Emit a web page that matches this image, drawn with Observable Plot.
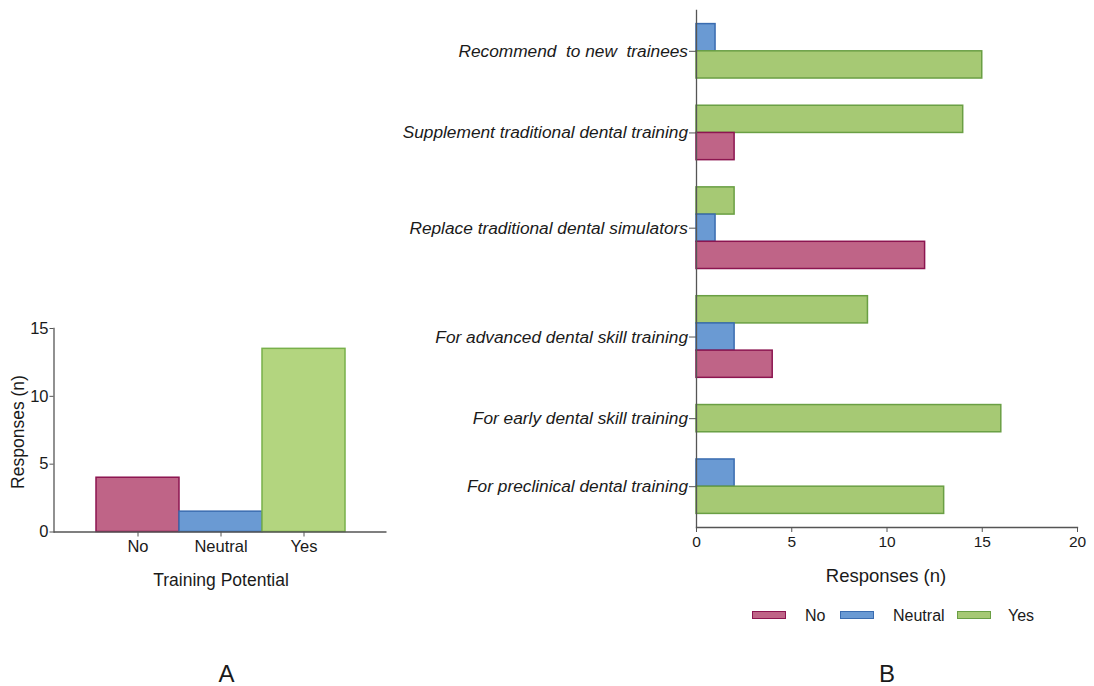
<!DOCTYPE html>
<html>
<head>
<meta charset="utf-8">
<script src="https://cdn.jsdelivr.net/npm/d3@7"></script>
<script src="https://cdn.jsdelivr.net/npm/@observablehq/plot@0.6"></script>
<style>
  html, body { margin: 0; padding: 0; background: #fff; }
  #root { position: relative; width: 1094px; height: 686px; overflow: hidden; font-family: "Liberation Sans", Arial, sans-serif; color: #1a1a1a; }
  .abs { position: absolute; }
  svg text { white-space: pre; }
  .lbl { position: absolute; white-space: pre; color: #1a1a1a; }
</style>
</head>
<body>
<div id="root"></div>
<script>
// ---------- Data: Panel A ----------
const potentialCategories = ["No", "Neutral", "Yes"];
const potentialValues = [4, 1.5, 13.5];
const potentialTicks = [0, 5, 10, 15];

// ---------- Data: Panel B ----------
const statements = [
  "Recommend  to new  trainees",
  "Supplement traditional dental training",
  "Replace traditional dental simulators",
  "For advanced dental skill training",
  "For early dental skill training",
  "For preclinical dental training"
];
const noCounts      = [null, 2, 12, 4, null, null];
const neutralCounts = [1, null, 1, 2, null, 2];
const yesCounts     = [15, 14, 2, 9, 16, 13];
// order in which the bars of each statement appear, top to bottom
const barOrder = [
  ["Neutral", "Yes"],
  ["Yes", "No"],
  ["Yes", "Neutral", "No"],
  ["Yes", "Neutral", "No"],
  ["Yes"],
  ["Neutral", "Yes"]
];
const responseTicks = [0, 5, 10, 15, 20];
const responses = ["No", "Neutral", "Yes"];

// ---------- Styles ----------
const fillsB   = ["#bf6487", "#6a9ad3", "#a6c974"];
const strokesB = ["#8c1550", "#3a6cb0", "#6a9f44"];
const fillsA   = ["#bf6487", "#6a9ad3", "#b3d57f"];
const strokesA = ["#8c1550", "#3a6cb0", "#78b04a"];
const FONT = "Liberation Sans, Arial, sans-serif";
const root = document.getElementById("root");

function place(el, left, top) {
  el.classList.add("abs");
  el.style.left = left + "px";
  el.style.top = top + "px";
  root.appendChild(el);
}
function label(text, x, y, size, opts = {}) {
  const d = document.createElement("div");
  d.className = "lbl";
  d.textContent = text;
  d.style.fontSize = size + "px";
  d.style.lineHeight = "1";
  d.style.left = x + "px";
  d.style.top = y + "px";
  d.style.transform = opts.rotate ? "translate(-50%,-50%) rotate(-90deg)" : "translate(-50%,-50%)";
  if (opts.italic) d.style.fontStyle = "italic";
  root.appendChild(d);
  return d;
}

// ---------- Panel A ----------
const dataA = potentialCategories.map((c, i) => ({category: c, value: potentialValues[i]}));
const plotA = Plot.plot({
  width: 400,
  height: 600,
  marginLeft: 53.5,
  marginRight: 13.5,
  marginTop: 328,
  marginBottom: 68.5,
  style: {fontFamily: FONT, color: "#1a1a1a", background: "transparent"},
  x: {domain: potentialCategories, paddingInner: 0, paddingOuter: 0.5},
  y: {domain: [0, 15]},
  color: {domain: potentialCategories, range: fillsA},
  marks: [
    Plot.barY(dataA, {
      x: "category", y: "value",
      fill: "category",
      stroke: d => strokesA[potentialCategories.indexOf(d.category)],
      strokeWidth: 1.5
    }),
    Plot.frame({anchor: "left", stroke: "#555", strokeWidth: 1.3}),
    Plot.ruleY([0], {stroke: "#555", strokeWidth: 1.3}),
    Plot.axisY({ticks: potentialTicks, tickSize: 4, tickPadding: 1.5, fontSize: 16.5, label: null, stroke: "#555"}),
    Plot.axisX({tickSize: 5, tickPadding: 3.5, fontSize: 16.5, label: null, stroke: "#555"})
  ]
});
place(plotA, 0, 0);
label("Responses (n)", 18.5, 432, 17.5, {rotate: true});
label("Training Potential", 221, 581, 17.5);
label("A", 226.5, 674, 24);

// ---------- Panel B ----------
// lay bars out group by group: one slot per bar, one empty slot between groups
const valueOf = {No: noCounts, Neutral: neutralCounts, Yes: yesCounts};
const dataB = [];
const centers = [];
let slot = 0;
statements.forEach((s, i) => {
  const first = slot;
  barOrder[i].forEach(r => {
    dataB.push({statement: s, response: r, value: valueOf[r][i], slot});
    slot++;
  });
  centers.push((first + slot - 1) / 2);
  slot++; // gap
});
const lastSlot = slot - 2;
const centerLabel = new Map(centers.map((c, i) => [c, statements[i]]));

const plotB = Plot.plot({
  width: 704,
  height: 560,
  marginLeft: 306,
  marginRight: 17,
  marginTop: 10,
  marginBottom: 33,
  style: {fontFamily: FONT, color: "#1a1a1a", background: "transparent"},
  x: {domain: [0, 20]},
  y: {domain: [-1, lastSlot + 1], reverse: true},
  color: {domain: responses, range: fillsB},
  marks: [
    Plot.rect(dataB, {
      x1: 0, x2: "value",
      y1: d => d.slot - 0.5, y2: d => d.slot + 0.5,
      fill: "response",
      stroke: d => strokesB[responses.indexOf(d.response)],
      strokeWidth: 1.5
    }),
    Plot.frame({anchor: "left", stroke: "#555", strokeWidth: 1.3}),
    Plot.frame({anchor: "bottom", stroke: "#555", strokeWidth: 1.3}),
    Plot.axisX({ticks: responseTicks, tickSize: 5, tickPadding: 3, fontSize: 15.5, label: null, stroke: "#555"}),
    Plot.axisY({ticks: centers, tickFormat: d => centerLabel.get(d), tickSize: 7, tickPadding: 1.5,
      fontSize: 17.3, fontStyle: "italic", label: null, stroke: "#555"})
  ]
});
place(plotB, 390, 0);
label("Responses (n)", 886, 576, 18.5);
label("B", 887, 674, 24);

// ---------- Legend ----------
const legendItems = [
  {swatch: 752, text: 805},
  {swatch: 840, text: 893},
  {swatch: 957, text: 1008}
];
responses.forEach((r, i) => {
  const sw = document.createElement("div");
  sw.style.width = "32px";
  sw.style.height = "6px";
  sw.style.background = fillsB[i];
  sw.style.border = "1.5px solid " + strokesB[i];
  place(sw, legendItems[i].swatch, 611);
  const t = document.createElement("div");
  t.className = "lbl";
  t.textContent = r;
  t.style.fontSize = "16px";
  t.style.lineHeight = "1";
  t.style.left = legendItems[i].text + "px";
  t.style.top = "608px";
  root.appendChild(t);
});
</script>
</body>
</html>
